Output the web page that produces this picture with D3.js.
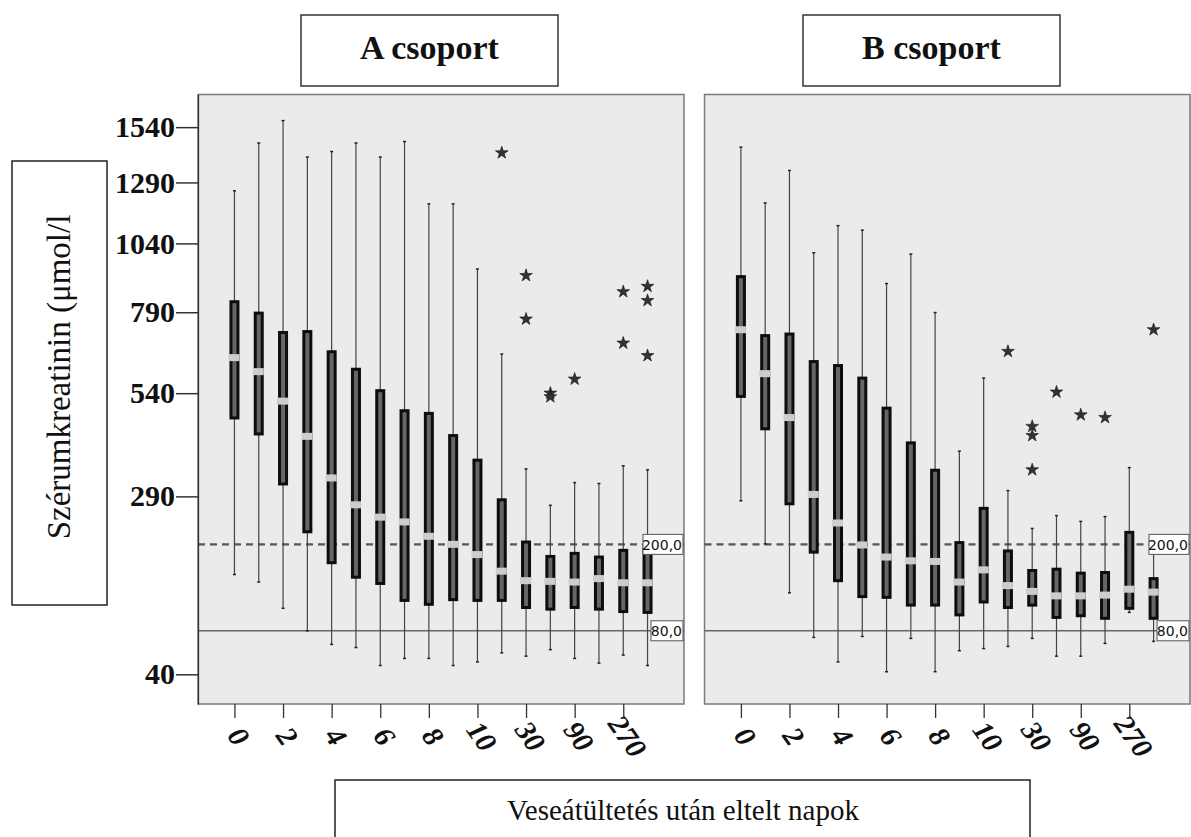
<!DOCTYPE html>
<html>
<head>
<meta charset="utf-8">
<script src="https://cdn.jsdelivr.net/npm/d3@7"></script>
<style>
  body { margin: 0; background: #fff; }
  svg { display: block; }
</style>
</head>
<body>
<svg id="chart" width="1191" height="837"></svg>
<script>
// categories (days after transplant)
const days = ['0', '1', '2', '3', '4', '5', '6', '7', '8', '9', '10', '20', '30', '60', '90', '180', '270', '360'];
const labeledDays = ['0', '2', '4', '6', '8', '10', '30', '90', '270'];
const yTicks = [40, 290, 540, 790, 1040, 1290, 1540];
const refLines = [200, 80];

// A csoport: whisker high, Q3, median, Q1, whisker low
const hiA = [1254, 1466, 1571, 1402, 1427, 1466, 1402, 1473, 1199, 1199, 943, 655, 349, 272, 319, 317, 356, 347];
const q3A = [826, 787, 723, 726, 662, 609, 547, 492, 485, 428, 369, 283, 204, 180, 185, 179, 190, 194];
const medA = [644, 602, 518, 426, 329, 273, 249, 240, 214, 200, 183, 157, 143, 142, 141, 146, 140, 140];
const q1A = [473, 432, 316, 222, 170, 148, 139, 116, 111, 117, 116, 116, 107, 105, 107, 105, 102, 101];
const loA = [152, 141, 106, 80, 66, 63, 47, 53, 53, 47, 50, 58, 55, 61, 53, 49, 56, 47];
const outA = [['20', 1421], ['30', 919], ['30', 767], ['60', 540], ['60', 530], ['90', 580],
  ['270', 861], ['270', 689], ['360', 880], ['360', 830], ['360', 650]];

// B csoport
const hiB = [1447, 1203, 1342, 1004, 1110, 1092, 890, 999, 789, 390, 583, 302, 228, 252, 241, 250, 352, 200];
const q3B = [915, 713, 718, 632, 620, 583, 499, 410, 346, 203, 266, 189, 158, 160, 154, 155, 221, 146];
const medB = [732, 596, 474, 294, 238, 199, 179, 173, 172, 141, 159, 136, 128, 122, 122, 123, 131, 127];
const q1B = [531, 445, 275, 187, 143, 121, 120, 110, 110, 98, 114, 107, 110, 95, 97, 94, 106, 94];
const loB = [281, 201, 126, 73, 50, 74, 42, 72, 42, 60, 62, 64, 72, 55, 55, 67, 101, 69];
const outB = [['20', 663], ['30', 451], ['30', 428], ['30', 347], ['60', 543], ['90', 481], ['180', 474], ['360', 732]];

const svg = d3.select('#chart');
const serif = '"Liberation Serif", "Times New Roman", serif';
const plotTop = 94.5, plotBottom = 704;

const y = d3.scaleSqrt()
  .domain([20.6, 1698])
  .range([plotBottom, plotTop]);

const groups = [
  { name: 'A csoport', x0: 198, x1: 684, titleX: 301, hi: hiA, q3: q3A, med: medA, q1: q1A, lo: loA, out: outA },
  { name: 'B csoport', x0: 704.5, x1: 1190, titleX: 803, hi: hiB, q3: q3B, med: medB, q1: q1B, lo: loB, out: outB },
];

const star = d3.symbol().type(d3.symbolStar).size(50);

groups.forEach(g => {
  const x = d3.scalePoint().domain(days).range([g.x0, g.x1]).padding(1.5);
  const p = svg.append('g');

  p.append('rect')
    .attr('x', g.x0).attr('y', plotTop)
    .attr('width', g.x1 - g.x0).attr('height', plotBottom - plotTop)
    .attr('fill', '#ebebeb')
    .attr('stroke', '#7a7a7a')
    .attr('stroke-width', 1.5);

  // reference lines
  p.append('line')
    .attr('x1', g.x0).attr('x2', g.x1)
    .attr('y1', y(refLines[0])).attr('y2', y(refLines[0]))
    .attr('stroke', '#555').attr('stroke-width', 2.2)
    .attr('stroke-dasharray', '7,5');
  p.append('line')
    .attr('x1', g.x0).attr('x2', g.x1)
    .attr('y1', y(refLines[1])).attr('y2', y(refLines[1]))
    .attr('stroke', '#666').attr('stroke-width', 1.5);

  const rows = days.map((d, i) => ({ d, hi: g.hi[i], q3: g.q3[i], med: g.med[i], q1: g.q1[i], lo: g.lo[i] }));
  const box = p.selectAll('.box').data(rows).join('g').attr('class', 'box')
    .attr('transform', r => `translate(${x(r.d)},0)`);

  box.append('line')
    .attr('y1', r => y(r.hi)).attr('y2', r => y(r.lo))
    .attr('stroke', '#444').attr('stroke-width', 1.2);
  box.append('line')
    .attr('x1', -1.5).attr('x2', 1.5)
    .attr('y1', r => y(r.hi)).attr('y2', r => y(r.hi))
    .attr('stroke', '#222').attr('stroke-width', 1.5);
  box.append('line')
    .attr('x1', -1.5).attr('x2', 1.5)
    .attr('y1', r => y(r.lo)).attr('y2', r => y(r.lo))
    .attr('stroke', '#222').attr('stroke-width', 1.5);
  box.append('rect')
    .attr('x', -3.5).attr('width', 7)
    .attr('y', r => y(r.q3))
    .attr('height', r => y(r.q1) - y(r.q3))
    .attr('fill', '#666')
    .attr('stroke', '#0d0d0d')
    .attr('stroke-width', 3);
  box.append('rect')
    .attr('x', -6).attr('width', 11)
    .attr('y', r => y(r.med) - 3.5)
    .attr('height', 7)
    .attr('fill', '#cdcdcd');

  p.selectAll('.out').data(g.out).join('path')
    .attr('class', 'out')
    .attr('d', star)
    .attr('transform', o => `translate(${x(o[0])},${y(o[1])})`)
    .attr('fill', '#333')
    .attr('stroke', '#111')
    .attr('stroke-width', 0.6);

  // reference labels
  const lab = [['200,0', 41], ['80,0', 33]];
  refLines.forEach((v, i) => {
    const w = lab[i][1];
    p.append('rect')
      .attr('x', g.x1 - w).attr('y', y(v) - 10)
      .attr('width', w - 1).attr('height', 20)
      .attr('fill', '#fff').attr('stroke', '#555').attr('stroke-width', 1);
    p.append('text')
      .attr('x', g.x1 - 2).attr('y', y(v) + 5.5)
      .attr('text-anchor', 'end')
      .attr('font-family', '"DejaVu Sans", sans-serif')
      .attr('font-size', 14)
      .attr('fill', '#111')
      .text(lab[i][0]);
  });

  // x axis
  const xa = svg.append('g')
    .attr('transform', `translate(0,${plotBottom})`)
    .call(d3.axisBottom(x).tickValues(labeledDays).tickSize(14).tickSizeOuter(0));
  xa.select('.domain').remove();
  xa.selectAll('.tick line').attr('stroke', '#333').attr('stroke-width', 1.3);
  xa.selectAll('.tick text')
    .attr('font-family', serif)
    .attr('font-weight', 'bold')
    .attr('font-style', 'italic')
    .attr('font-size', 29)
    .attr('fill', '#111')
    .attr('text-anchor', 'middle')
    .attr('y', 0)
    .attr('dy', '0.35em')
    .attr('transform', 'translate(4,32) rotate(55)');

  // title box
  svg.append('rect')
    .attr('x', g.titleX).attr('y', 15)
    .attr('width', 257).attr('height', 71)
    .attr('fill', '#fff').attr('stroke', '#333').attr('stroke-width', 1.5);
  svg.append('text')
    .attr('x', g.titleX + 128.5).attr('y', 59)
    .attr('text-anchor', 'middle')
    .attr('font-family', serif)
    .attr('font-weight', 'bold')
    .attr('font-size', 34)
    .attr('fill', '#111')
    .text(g.name);
});

// y axis
const ya = svg.append('g')
  .attr('transform', 'translate(198,0)')
  .call(d3.axisLeft(y).tickValues(yTicks).tickFormat(d3.format('d'))
    .tickSize(22).tickPadding(1).tickSizeOuter(0));
ya.select('.domain').attr('stroke', '#333').attr('stroke-width', 1.3);
ya.selectAll('.tick line').attr('stroke', '#333').attr('stroke-width', 1.5);
ya.selectAll('.tick text')
  .attr('font-family', serif)
  .attr('font-weight', 'bold')
  .attr('font-size', 30)
  .attr('fill', '#111');

// y label box
svg.append('rect')
  .attr('x', 12).attr('y', 161)
  .attr('width', 95).attr('height', 444)
  .attr('fill', '#fff').attr('stroke', '#222').attr('stroke-width', 1.5);
svg.append('text')
  .attr('transform', 'translate(70,377) rotate(-90)')
  .attr('text-anchor', 'middle')
  .attr('font-family', serif)
  .attr('font-size', 33)
  .attr('fill', '#111')
  .text('Szérumkreatinin (μmol/l');

// x label box
svg.append('rect')
  .attr('x', 335).attr('y', 780)
  .attr('width', 695).attr('height', 80)
  .attr('fill', '#fff').attr('stroke', '#222').attr('stroke-width', 1.5);
svg.append('text')
  .attr('x', 683).attr('y', 820)
  .attr('text-anchor', 'middle')
  .attr('font-family', serif)
  .attr('font-size', 29)
  .attr('fill', '#111')
  .text('Veseátültetés után eltelt napok');
</script>
</body>
</html>
